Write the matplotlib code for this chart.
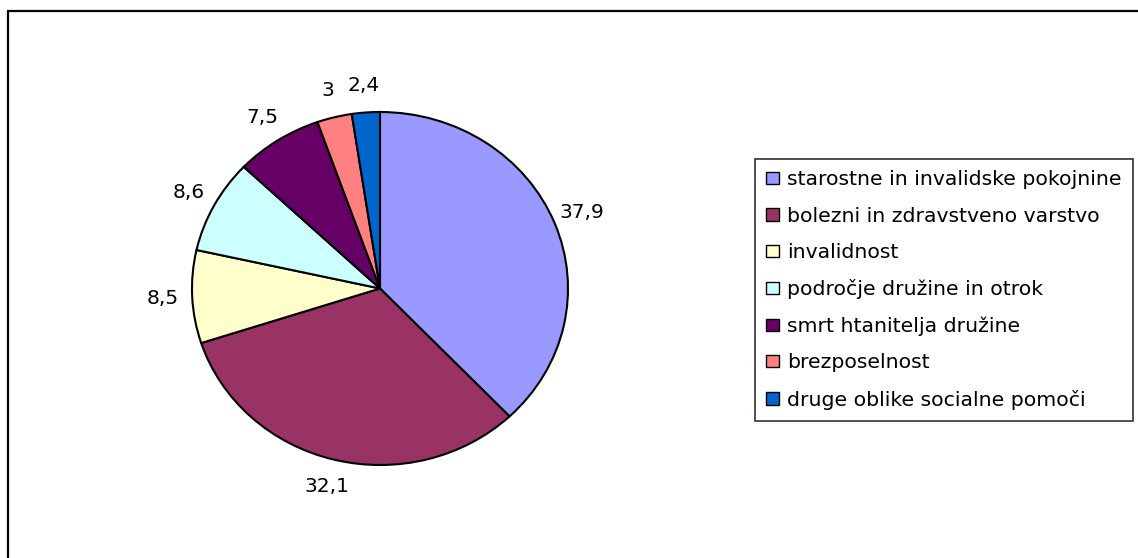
import matplotlib
matplotlib.use("Agg")
import matplotlib.pyplot as plt
from matplotlib.patches import Rectangle, Patch

categories = [
    "starostne in invalidske pokojnine",
    "bolezni in zdravstveno varstvo",
    "invalidnost",
    "področje družine in otrok",
    "smrt htanitelja družine",
    "brezposelnost",
    "druge oblike socialne pomoči",
]
values = [37.9, 32.1, 8.5, 8.6, 7.5, 3, 2.4]
value_labels = ["37,9", "32,1", "8,5", "8,6", "7,5", "3", "2,4"]
colors = ["#9999FF", "#993366", "#FFFFCC", "#CCFFFF", "#660066", "#FF8080", "#0066CC"]

W, H = 1138, 558
fig = plt.figure(figsize=(W / 100, H / 100), dpi=100)
fig.patch.set_facecolor("white")

FS = 14.5
LFS = 14.7
FONT = "DejaVu Sans"

# outer chart frame
fig.add_artist(Rectangle((8 / W, -0.2), 1.2, 1.2 - 11 / H,
                         transform=fig.transFigure, fill=False,
                         edgecolor="black", linewidth=1.6))

# pie axes (elliptical pie, as in reference)
px0, px1, py0, py1 = 192, 568, 112, 465
ax = fig.add_axes([px0 / W, 1 - py1 / H, (px1 - px0) / W, (py1 - py0) / H])
wedges, texts = ax.pie(values, colors=colors, labels=value_labels,
                       startangle=90, counterclock=False,
                       labeldistance=1.155,
                       wedgeprops=dict(edgecolor="black", linewidth=1.5),
                       textprops=dict(fontsize=FS, family=FONT, color="black"))
for t in texts:
    t.set_horizontalalignment("center")
    t.set_verticalalignment("center")
ax.set_aspect("auto")
ax.set_xlim(-1, 1)
ax.set_ylim(-1, 1)
ax.axis("off")

# legend
handles = [Patch(facecolor=c, edgecolor="black", linewidth=1.0) for c in colors]
leg = fig.legend(handles, categories, loc="upper left",
                 bbox_to_anchor=(755 / W, 1 - 159 / H),
                 frameon=True, fancybox=False, shadow=False,
                 prop=dict(family=FONT, size=LFS),
                 handlelength=0.62, handleheight=0.55, handletextpad=0.42,
                 labelspacing=0.85, borderpad=0.55, borderaxespad=0.0)
leg.get_frame().set_edgecolor("black")
leg.get_frame().set_linewidth(1.2)

fig.savefig("out.png", dpi=100, facecolor="white")
